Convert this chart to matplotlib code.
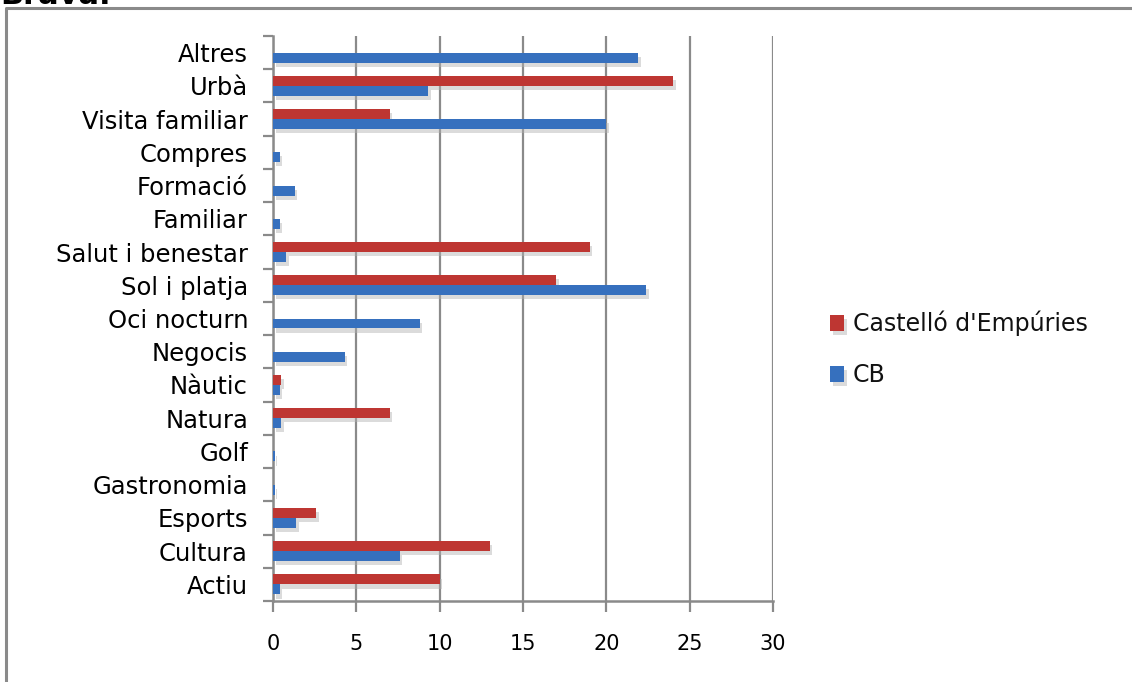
import numpy as np
import matplotlib
matplotlib.use('Agg')
import matplotlib.pyplot as plt
import matplotlib.patheffects as pe
from matplotlib.ticker import FixedLocator

# categories bottom to top
categories = ['Actiu', 'Cultura', 'Esports', 'Gastronomia', 'Golf', 'Natura', 'Nàutic',
              'Negocis', 'Oci nocturn', 'Sol i platja', 'Salut i benestar', 'Familiar',
              'Formació', 'Compres', 'Visita familiar', 'Urbà', 'Altres']
castello = [10.0, 13.0, 2.6, 0, 0, 7.0, 0.5, 0, 0, 17.0, 19.0, 0, 0, 0, 7.0, 24.0, 0]
cb = [0.4, 7.6, 1.4, 0.1, 0.1, 0.5, 0.4, 4.3, 8.8, 22.4, 0.8, 0.4, 1.3, 0.4, 20.0, 9.3, 21.9]
xticks = [0, 5, 10, 15, 20, 25, 30]

red = '#be3632'
blue = '#3670be'
grey = '#8a8a8a'

fig = plt.figure(figsize=(11.32, 6.82), dpi=100)
ax = fig.add_axes([273 / 1132, 1 - 601 / 682, 500 / 1132, 565 / 682])

y = np.arange(len(categories))
h = 0.30
shadow = [pe.SimplePatchShadow(offset=(2, -3), shadow_rgbFace='#b0b0b0', alpha=0.45), pe.Normal()]
b1 = ax.barh(y + h / 2, castello, height=h, color=red, label="Castelló d'Empúries", zorder=3)
b2 = ax.barh(y - h / 2, cb, height=h, color=blue, label='CB', zorder=3)
for bar in list(b1) + list(b2):
    if bar.get_width() > 0:
        bar.set_path_effects(shadow)

ax.set_xlim(0, 30)
ax.set_ylim(-0.5, len(categories) - 0.5)
ax.set_xticks(xticks)
ax.set_xticklabels([str(t) for t in xticks], fontsize=15)
ax.xaxis.grid(True, color=grey, linewidth=1.6, zorder=0)
ax.set_axisbelow(True)

# category labels sit between the boundary ticks
ax.yaxis.set_major_locator(FixedLocator(np.arange(-0.5, len(categories), 1.0)))
ax.yaxis.set_minor_locator(FixedLocator(y))
ax.set_yticklabels([], minor=False)
ax.set_yticklabels(categories, minor=True, fontsize=17.5, family='DejaVu Sans')
ax.tick_params(axis='y', which='major', length=7, width=1.6, color=grey)
ax.tick_params(axis='y', which='minor', length=0, pad=18)
ax.tick_params(axis='x', which='major', length=8, width=1.6, color=grey, pad=16)

for side in ['top', 'right']:
    ax.spines[side].set_visible(False)
for side in ['left', 'bottom']:
    ax.spines[side].set_color(grey)
    ax.spines[side].set_linewidth(1.8)

handles, labels = ax.get_legend_handles_labels()
leg = fig.legend(handles, labels, loc='center left', bbox_to_anchor=(809 / 1132, 1 - 349 / 682),
                 frameon=False, handlelength=0.6, handleheight=0.7,
                 handletextpad=0.35, labelspacing=1.15, prop={'family': 'DejaVu Sans', 'size': 17})
for t in leg.get_texts():
    t.set_color('#111111')

# outer frame (top and left edges only)
fig.add_artist(plt.Line2D([6 / 1132, 6 / 1132, 1], [0, 1 - 8 / 682, 1 - 8 / 682],
                          transform=fig.transFigure, color=grey, linewidth=2.2))
fig.text(0.0, 1 - 4 / 682, 'Brava.', fontsize=22, fontweight='bold', va='baseline', ha='left')

fig.savefig('out.png', dpi=100)
